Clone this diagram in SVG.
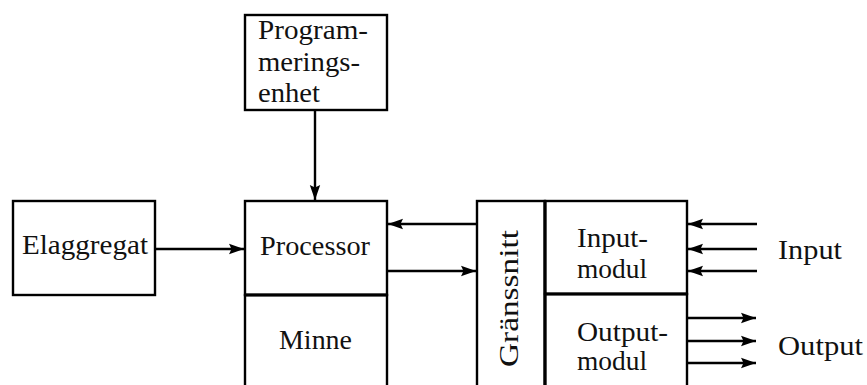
<svg xmlns="http://www.w3.org/2000/svg" width="867" height="385" viewBox="0 0 867 385">
<style>
.box{fill:#fff;stroke:#000;stroke-width:2.4}
.t{font-family:"Liberation Serif","Times New Roman",serif;font-size:27px;fill:#111}
.c{stroke:#000;stroke-width:2.4;fill:none;marker-end:url(#ah)}
</style>
<defs>
<marker id="ah" markerUnits="userSpaceOnUse" markerWidth="16" markerHeight="12" refX="15" refY="6" orient="auto">
<path d="M0,0.8 L15,6 L0,11.2 L2.5,6 z" fill="#000"/>
</marker>
</defs>
<rect width="867" height="385" fill="#fff"/>
<g id="connectors">
<line class="c" x1="315" y1="110" x2="315" y2="200"/>
<line class="c" x1="155" y1="249" x2="244" y2="249"/>
<line class="c" x1="477" y1="224" x2="388" y2="224"/>
<line class="c" x1="387" y1="271" x2="476" y2="271"/>
<line class="c" x1="757" y1="224" x2="688" y2="224"/>
<line class="c" x1="757" y1="249" x2="688" y2="249"/>
<line class="c" x1="757" y1="271" x2="688" y2="271"/>
<line class="c" x1="687" y1="318" x2="756" y2="318"/>
<line class="c" x1="687" y1="341" x2="756" y2="341"/>
<line class="c" x1="687" y1="363" x2="756" y2="363"/>
</g>
<g id="programmeringsenhet">
<rect class="box" x="245" y="15" width="142" height="95"/>
<text class="t" x="258" y="39" textLength="110" lengthAdjust="spacingAndGlyphs">Program-</text>
<text class="t" x="258" y="71" textLength="102" lengthAdjust="spacingAndGlyphs">merings-</text>
<text class="t" x="258" y="102" textLength="62" lengthAdjust="spacingAndGlyphs">enhet</text>
</g>
<g id="elaggregat">
<rect class="box" x="13" y="201" width="142" height="94"/>
<text class="t" x="22" y="254" textLength="126" lengthAdjust="spacingAndGlyphs">Elaggregat</text>
</g>
<g id="processor">
<rect class="box" x="245" y="201" width="142" height="94"/>
<text class="t" x="260" y="255" textLength="110" lengthAdjust="spacingAndGlyphs">Processor</text>
</g>
<g id="minne">
<rect class="box" x="245" y="295" width="142" height="100"/>
<line x1="245" y1="295" x2="387" y2="295" stroke="#000" stroke-width="3.2"/>
<text class="t" x="279" y="349" textLength="73" lengthAdjust="spacingAndGlyphs">Minne</text>
</g>
<g id="granssnitt">
<rect class="box" x="477" y="201" width="68" height="200"/>
<text class="t" transform="translate(518,367) rotate(-90)" textLength="137" lengthAdjust="spacingAndGlyphs">Gränssnitt</text>
</g>
<g id="inputmodul">
<rect class="box" x="545" y="201" width="142" height="93"/>
<text class="t" x="577" y="247" textLength="71" lengthAdjust="spacingAndGlyphs">Input-</text>
<text class="t" x="577" y="278" textLength="70" lengthAdjust="spacingAndGlyphs">modul</text>
</g>
<g id="outputmodul">
<rect class="box" x="545" y="294" width="142" height="100"/>
<line x1="545" y1="294" x2="687" y2="294" stroke="#000" stroke-width="3.2"/>
<line x1="545" y1="201" x2="545" y2="400" stroke="#000" stroke-width="3.2"/>
<text class="t" x="577" y="341" textLength="91" lengthAdjust="spacingAndGlyphs">Output-</text>
<text class="t" x="577" y="370" textLength="70" lengthAdjust="spacingAndGlyphs">modul</text>
</g>
<g id="labels">
<text class="t" x="778" y="259" textLength="64" lengthAdjust="spacingAndGlyphs">Input</text>
<text class="t" x="778" y="355" textLength="85" lengthAdjust="spacingAndGlyphs">Output</text>
</g>
</svg>
